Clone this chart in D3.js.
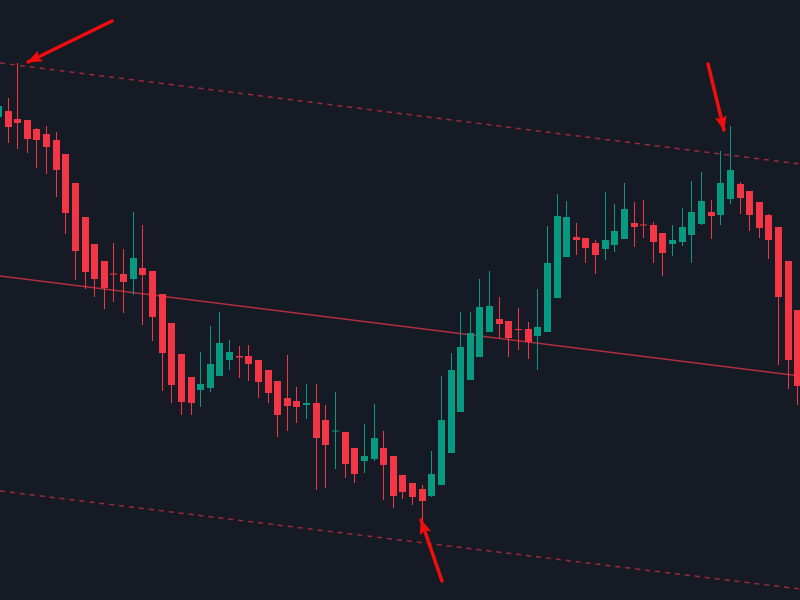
<!DOCTYPE html>
<html>
<head>
<meta charset="utf-8">
<script src="https://cdn.jsdelivr.net/npm/d3@7"></script>
<style>
  html, body { margin: 0; padding: 0; background: #161a25; overflow: hidden; }
  svg { display: block; }
</style>
</head>
<body>
<script>
// candle data, one entry per bar (index 0 is cut off at the left edge)
const open  = [148.3,148.9,148.1,148.0,147.1,146.6,146.0,144.6,141.7,138.3,135.6,133.9,132.65,132.6,132.1,133.2,132.9,130.6,127.7,124.6,122.3,121.0,121.2,122.4,124.0,124.4,124.4,124.0,123.0,121.9,120.2,119.9,119.5,119.7,118.0,116.85,116.8,115.2,113.9,114.1,115.2,114.4,112.5,111.7,111.1,110.4,111.5,114.7,118.8,122.0,124.3,126.8,128.1,127.9,127.1,127.1,126.4,126.8,130.2,134.3,136.3,136.2,135.7,135.1,135.5,136.1,137.7,137.55,137.5,136.7,135.6,135.8,136.5,137.6,138.8,138.5,140.1,141.6,140.9,139.8,138.5,137.3,133.9,129.0]
const high  = [150.0,150.2,153.7,148.0,147.2,147.4,146.8,144.6,141.7,138.3,135.6,133.9,135.7,135.1,138.8,137.5,132.9,130.6,127.7,124.6,122.3,124.8,127.4,128.8,126.0,125.4,125.5,124.0,123.0,121.9,124.5,121.3,121.6,121.6,119.5,120.8,116.8,115.2,117.6,119.6,116.9,114.4,112.5,111.7,111.5,114.9,122.4,124.7,128.8,128.8,132.1,132.9,130.3,127.9,129.2,127.8,131.1,137.4,140.6,139.9,137.7,136.2,136.0,140.8,139.6,141.7,139.8,140.0,137.8,136.7,137.5,139.2,141.9,142.8,140.0,144.9,147.4,141.8,140.9,139.8,138.6,137.3,133.9,129.0]
const low   = [147.8,145.7,145.1,144.7,143.2,142.6,140.3,136.6,132.0,131.1,130.3,129.1,129.8,128.7,130.5,127.5,125.9,120.9,119.7,118.5,118.5,119.3,120.8,122.4,123.0,122.2,121.9,120.2,119.7,116.3,116.9,117.7,118.1,111.0,111.2,113.1,112.2,111.7,112.7,113.9,110.0,109.2,110.1,109.5,108.0,110.3,111.5,114.7,118.8,122.0,124.3,126.8,126.2,124.3,125.0,124.1,123.0,126.8,130.2,134.3,134.5,133.7,132.6,134.0,134.8,136.1,135.3,136.2,133.7,132.4,134.4,135.4,133.7,137.5,136.1,137.5,139.6,138.6,136.9,136.2,134.1,123.5,121.1,119.5]
const close = [149.4,147.3,147.7,146.1,146.0,145.3,143.0,138.7,134.9,132.8,132.1,131.2,132.55,131.8,134.2,132.5,128.3,124.7,121.5,119.8,119.7,121.6,123.6,125.7,124.8,124.25,123.6,121.8,120.7,118.5,119.4,119.3,119.7,116.2,115.5,116.95,113.6,112.6,114.4,116.2,113.5,110.4,110.8,110.3,109.9,112.6,118.0,123.0,125.3,126.7,129.3,129.4,127.6,126.2,127.0,125.8,127.3,133.7,138.4,138.3,136.0,135.2,134.5,136.0,136.9,139.1,137.3,137.45,135.8,134.7,136.0,137.3,138.8,139.9,138.4,141.7,143.0,140.2,138.5,137.2,136.0,130.3,124.0,121.4]

// channel lines: [index, price] at the two ends
const channelIdx = [0.22, 83.28]
const upperLine  = [153.7, 143.6]
const midLine    = [132.4, 122.4]
const lowerLine  = [110.9, 101.1]

// annotation arrows: from [index, price] to [index, price]
const arrows = [
  [[11.85, 157.9], [3.13, 153.8]],
  [[73.73, 153.6], [75.39, 147.0]],
  [[46.11, 101.9], [43.93, 108.0]]
]

const width = 800
const height = 600
const upColor = "#089981"
const downColor = "#f23645"
const arrowColor = "#f00d0d"

let svg = d3.select("body").append("svg")
    .attr("width", width)
    .attr("height", height)

svg.append("rect")
    .attr("width", width)
    .attr("height", height)
    .attr("fill", "#161a25")

let x = d3.scaleLinear().domain([1, 83]).range([7.5, 797.3])
let y = d3.scaleLinear().domain([100, 160]).range([height, 0])

let candles = d3.range(open.length).map(i => ({
    i: i, o: open[i], h: high[i], l: low[i], c: close[i]
}))

// channel
function drawChannelLine(prices, dashed, opacity, w) {
    svg.append("line")
        .attr("x1", x(channelIdx[0])).attr("y1", y(prices[0]))
        .attr("x2", x(channelIdx[1])).attr("y2", y(prices[1]))
        .attr("stroke", downColor)
        .attr("stroke-opacity", opacity)
        .attr("stroke-width", w)
        .attr("stroke-dasharray", dashed ? "5,5" : null)
}
drawChannelLine(upperLine, true, 0.6, 1.5)
drawChannelLine(midLine, false, 0.7, 1.5)
drawChannelLine(lowerLine, true, 0.6, 1.5)

let bodyW = 7
let g = svg.append("g")

g.selectAll("line.wick")
    .data(candles).enter()
    .append("line")
        .attr("class", "wick")
        .attr("x1", d => Math.round(x(d.i)) + 0.5)
        .attr("x2", d => Math.round(x(d.i)) + 0.5)
        .attr("y1", d => y(d.h))
        .attr("y2", d => y(d.l))
        .attr("stroke", d => d.c >= d.o ? upColor : downColor)
        .attr("stroke-width", 1)

g.selectAll("rect.body")
    .data(candles).enter()
    .append("rect")
        .attr("class", "body")
        .attr("x", d => Math.round(x(d.i)) + 0.5 - bodyW / 2)
        .attr("width", bodyW)
        .attr("y", d => y(Math.max(d.o, d.c)))
        .attr("height", d => Math.max(1, Math.abs(y(d.o) - y(d.c))))
        .attr("fill", d => d.c >= d.o ? upColor : downColor)

// arrows
svg.append("defs").append("marker")
    .attr("id", "head")
    .attr("markerUnits", "userSpaceOnUse")
    .attr("viewBox", "0 0 15 12")
    .attr("markerWidth", 15)
    .attr("markerHeight", 12)
    .attr("refX", 14)
    .attr("refY", 6)
    .attr("orient", "auto")
    .append("path")
        .attr("d", "M0,0 L15,6 L0,12 L3,6 Z")
        .attr("fill", arrowColor)

svg.selectAll("line.arrow")
    .data(arrows).enter()
    .append("line")
        .attr("class", "arrow")
        .attr("x1", d => x(d[0][0])).attr("y1", d => y(d[0][1]))
        .attr("x2", d => x(d[1][0])).attr("y2", d => y(d[1][1]))
        .attr("stroke", arrowColor)
        .attr("stroke-width", 3.5)
        .attr("stroke-linecap", "round")
        .attr("marker-end", "url(#head)")
</script>
</body>
</html>
